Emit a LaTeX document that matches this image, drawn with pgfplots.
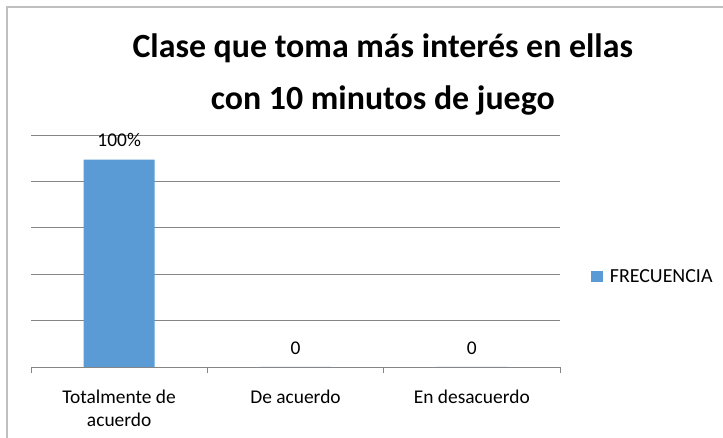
\documentclass[border=0pt]{standalone}
\usepackage{pgfplots}
\pgfplotsset{compat=1.18}
\usepackage{fontspec}
\setmainfont{Carlito}
\definecolor{barblue}{HTML}{5B9BD5}
\definecolor{gridgray}{HTML}{868686}
\definecolor{framegray}{HTML}{BFBFBF}
\begin{document}
\begin{tikzpicture}[x=1bp,y=1bp]
\path[use as bounding box] (0,0) rectangle (723,438);
\draw[framegray, line width=1.5bp] (7,0) -- (7,431) -- (723,431);
\begin{axis}[
  at={(31bp,71bp)}, anchor=south west,
  scale only axis, width=529bp, height=232bp,
  xmin=-0.5, xmax=2.5, ymin=0, ymax=5,
  axis x line*=bottom, axis y line*=left,
  y axis line style={draw=none},
  x axis line style={gridgray, line width=0.75bp},
  ytick={0,1,2,3,4,5}, yticklabels={}, ytick style={draw=none},
  ymajorgrids, grid style={gridgray, line width=0.75bp},
  xtick={0,1,2},
  xticklabels={{Totalmente de\\acuerdo},{De acuerdo},{En desacuerdo}},
  xticklabel style={align=center, font=\fontsize{19.5}{23.5}\selectfont, text=black, yshift=-15bp},
  major x tick style={draw=none},
  minor xtick={-0.5,0.5,1.5,2.5},
  minor x tick style={gridgray, line width=0.75bp},
  tick align=outside, minor tick length=6bp,
  ybar, bar width=71bp,
  point meta=explicit symbolic,
  nodes near coords,
  nodes near coords style={font=\fontsize{19.5}{23.5}\selectfont, text=black, anchor=south, yshift=9bp},
  title={Clase que toma más interés en ellas\\con 10 minutos de juego},
  title style={align=center, font=\bfseries\fontsize{34}{52}\selectfont, at={(rel axis cs:0.665,1.235)}, anchor=center},
  legend style={draw=none, at={(1.058,0.388)}, anchor=west, font=\fontsize{20}{24}\selectfont, inner sep=0pt, /tikz/every even column/.append style={column sep=0pt}},
  legend image code/.code={\fill[barblue] (0bp,-5.5bp) rectangle (12bp,5.5bp);},
  legend cell align=left,
]
\addplot[fill=barblue, draw=none] coordinates {(0,4.47) [100\%] (1,0) [0] (2,0) [0]};
\addlegendentry{\hspace{5bp}FRECUENCIA}
\end{axis}
\end{tikzpicture}
\end{document}
